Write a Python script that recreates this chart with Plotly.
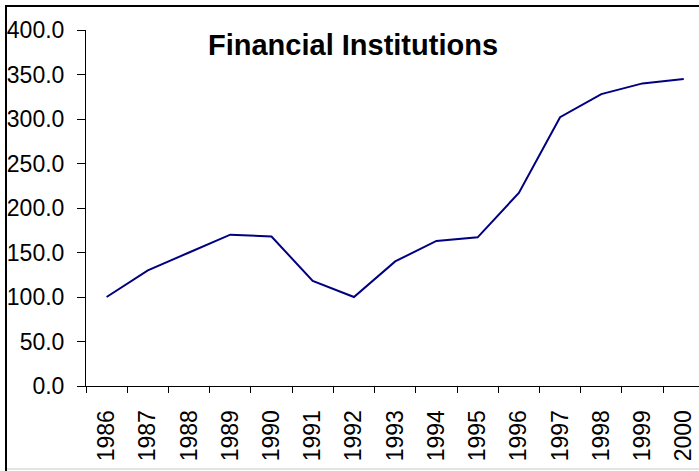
import plotly.graph_objects as go

# Index values
years = ['1986', '1987', '1988', '1989', '1990', '1991', '1992', '1993',
         '1994', '1995', '1996', '1997', '1998', '1999', '2000']
index_values = [100, 130, 150, 170, 168, 118, 100, 140,
                163, 167, 217, 302, 328, 340, 345]
y_ticks = [0, 50, 100, 150, 200, 250, 300, 350, 400]

font_name = "Liberation Sans, Arial, sans-serif"

fig = go.Figure()
fig.add_trace(go.Scatter(
    x=years,
    y=index_values,
    mode='lines',
    line=dict(color='#000080', width=2),
    hoverinfo='x+y'
))

fig.update_layout(
    width=699, height=471,
    margin=dict(l=86, r=0, t=30, b=85, autoexpand=False),
    paper_bgcolor='white',
    plot_bgcolor='white',
    showlegend=False,
    font=dict(family=font_name, color='black'),
    xaxis=dict(
        type='category',
        range=[-0.5, 14.37],
        automargin=False,
        showgrid=False,
        showline=True, linecolor='black', linewidth=1,
        ticks='outside', tickson='boundaries', ticklen=6,
        tickcolor='black', tickwidth=1,
        tickangle=-90,
        tickfont=dict(size=23, family=font_name),
        ticklabelstandoff=14,
        fixedrange=True
    ),
    yaxis=dict(
        range=[0, 400],
        automargin=False,
        tickvals=y_ticks,
        ticktext=[f"{v:.1f}" for v in y_ticks],
        showgrid=False, zeroline=False,
        showline=True, linecolor='black', linewidth=1,
        ticks='outside', ticklen=8, tickcolor='black', tickwidth=1,
        tickfont=dict(size=23, family=font_name),
        ticklabelstandoff=8,
        fixedrange=True
    ),
    annotations=[dict(
        text="<b>Financial Institutions</b>",
        xref='paper', yref='paper',
        x=(353 - 86) / 613, y=(386 - 45) / 356,
        xanchor='center', yanchor='middle',
        showarrow=False,
        font=dict(size=29, family=font_name, color='black')
    )],
    shapes=[
        # chart area frame: grey bottom edge, black left and top edges
        dict(type='line', xref='paper', yref='paper',
             x0=(6 - 86) / 613, x1=1.01,
             y0=(386 - 469) / 356, y1=(386 - 469) / 356,
             line=dict(color='#c8c8c8', width=1)),
        dict(type='rect', xref='paper', yref='paper',
             x0=(6 - 86) / 613, x1=1.05,
             y0=(386 - 6) / 356, y1=(386 - 480) / 356,
             line=dict(color='black', width=2),
             fillcolor='rgba(0,0,0,0)'),
    ]
)

# page body has a default 8px margin; drop it so the figure fills the window
fig.write_html("out.html", config={'displayModeBar': False},
               post_script="document.body.style.margin='0';")
